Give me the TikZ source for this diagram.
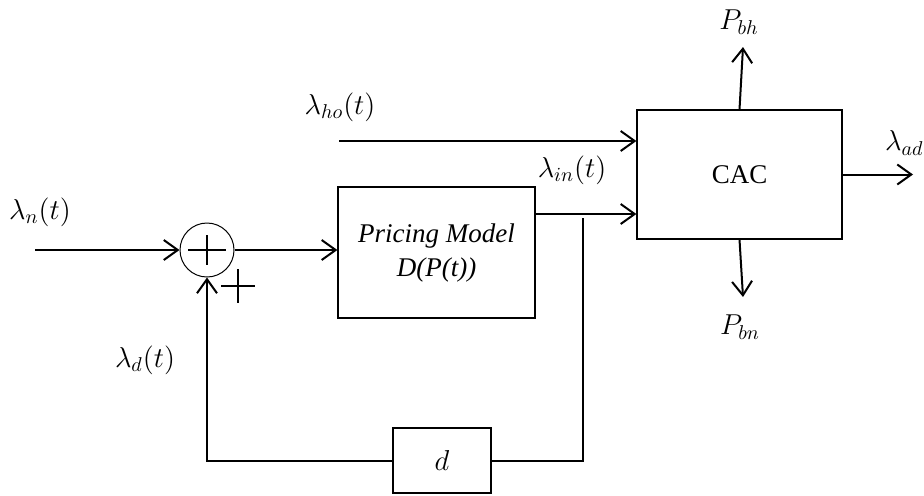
\documentclass[tikz,border=0pt]{standalone}
\usepackage{fontspec}
\setmainfont{Liberation Serif}
\usepackage{tikz}
\usetikzlibrary{arrows.meta, positioning, calc}

\begin{document}
\begin{tikzpicture}[x=0.5pt, y=-0.5pt,
    block/.style={draw, line width=0.6pt, font=\fontsize{13.5}{17}\selectfont},
    sumnode/.style={draw, circle, line width=0.5pt, minimum size=27pt,
        inner sep=0pt},
    wire/.style={line width=1pt},
    arr/.style={wire, -{Straight Barb[length=7pt, width=10pt]}},
    lbl/.style={font=\fontsize{14}{16}\selectfont},
]
    \useasboundingbox (0,0) rectangle (924,495);

    % Blocks
    \node[sumnode] (sum) at (207,250) {};
    \node[block, minimum width=98.5pt, minimum height=65.5pt, align=center]
        (price) at (436.5,252.5) {\itshape Pricing Model\\\itshape D(P(t))};
    \node[block, minimum width=102.5pt, minimum height=64.5pt]
        (cac) at (739.5,174.5) {CAC};
    \node[block, minimum width=49pt, minimum height=32.5pt]
        (dly) at (442,460.5) {$d$};

    % Plus signs
    \draw[wire] (sum.center) +(-19,0) -- +(19,0) +(0,-15) -- +(0,15);
    \coordinate (plus) at (238,286);
    \draw[wire] (plus) +(-17,0) -- +(17,0) +(0,-17) -- +(0,17);

    % Inputs
    \coordinate (nin) at (35,250);
    \coordinate (hoin) at (339,141);
    \coordinate (tap) at (583,214);
    \draw[arr] (nin) -- (sum.west);
    \draw[arr] (sum.east) -- (price.west |- sum.east);
    \draw[arr] (hoin) -- (cac.west |- hoin);
    \draw[arr] (price.east |- tap) -- (cac.west |- tap);

    % Feedback loop
    \draw[wire] ([yshift=-2pt]tap) -- (tap |- dly.east) -- (dly.east);
    \draw[arr] (dly.west) -- (sum |- dly.west) -- (sum.south);

    % Outputs
    \coordinate (adout) at (913,174.5);
    \coordinate (bhout) at (743,47);
    \coordinate (bnout) at (743,297);
    \draw[arr] (cac.east) -- (adout);
    \draw[arr] (cac.north) -- (bhout);
    \draw[arr] (cac.south) -- (bnout);

    % Labels
    \node[lbl] (lbln) at (40,212) {$\lambda_n(t)$};
    \node[lbl] (lblho) at (340,107) {$\lambda_{ho}(t)$};
    \node[lbl] (lblin) at (572,170) {$\lambda_{in}(t)$};
    \node[lbl] (lbld) at (145,360) {$\lambda_d(t)$};
    \node[lbl] (lblbh) at (739,22) {$P_{bh}$};
    \node[lbl] (lblbn) at (740,327) {$P_{bn}$};
    \node[lbl, anchor=west] (lblad) at (878,143) {$\lambda_{ad}$};
\end{tikzpicture}
\end{document}
